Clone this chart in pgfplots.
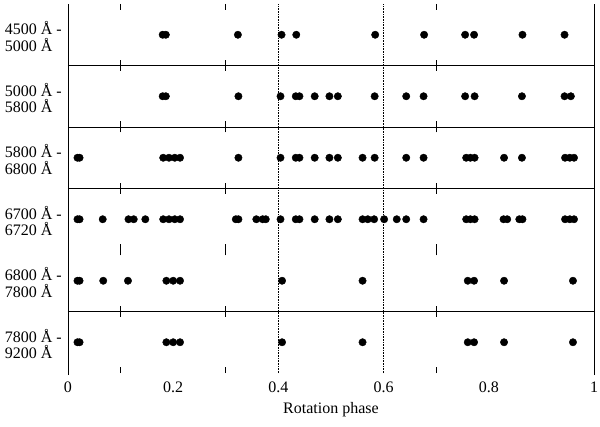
\documentclass[border=0pt]{standalone}
\usepackage{pgfplots}
\pgfplotsset{compat=1.18}
\usepackage{fontspec}
\setmainfont{Liberation Serif}
\newcommand{\lblfont}{\fontsize{16}{16.5}\selectfont}
\begin{document}
\begin{tikzpicture}
\useasboundingbox (-68pt,-53pt) rectangle (532pt,373pt);
% frame decorations (1 unit x = 526pt, 1 unit y = 61.5pt)
\draw[line width=0.8pt] (0,-2pt) -- (0,369pt);
\draw[line width=0.8pt] (526pt,-2pt) -- (526pt,369pt);
\foreach \yy in {1,3,4,5} {\draw[line width=0.8pt] (0,\yy*61.5pt) -- (526pt,\yy*61.5pt);}
\foreach \xx in {0.1,0.3,0.7} {
  \draw[line width=0.8pt] (\xx*526pt,369pt) -- (\xx*526pt,363pt);
  \draw[line width=0.8pt] (\xx*526pt,0pt) -- (\xx*526pt,6pt);
  \foreach \yy in {1,2,3,4,5} {\draw[line width=0.8pt] (\xx*526pt,\yy*61.5pt-5.5pt) -- (\xx*526pt,\yy*61.5pt+5.5pt);}
}
\draw[densely dotted, line width=0.6pt] (0.4*526pt,0) -- (0.4*526pt,369pt);
\draw[densely dotted, line width=0.6pt] (0.6*526pt,0) -- (0.6*526pt,369pt);
\begin{axis}[
  at={(0,0)}, anchor=south west,
  width=526pt, height=369pt, scale only axis,
  xmin=0, xmax=1, ymin=0, ymax=6,
  axis line style={draw=none},
  xtick={0,0.2,0.4,0.6,0.8,1},
  xticklabels={0,0.2,0.4,0.6,0.8,1},
  major tick length=0pt,
  ytick=\empty,
  tick label style={font=\lblfont},
  /pgf/number format/assume math mode=true,
  xticklabel style={yshift=-5pt},
  xlabel={Rotation phase},
  xlabel style={font=\lblfont, yshift=-3pt},
  clip=false,
]
\addplot[only marks, mark=*, mark size=3.7pt, black] coordinates {
(0.180,5.5) (0.186,5.5) (0.323,5.5) (0.406,5.5) (0.434,5.5) (0.584,5.5) (0.677,5.5) (0.755,5.5) (0.772,5.5) (0.864,5.5) (0.944,5.5)};
\addplot[only marks, mark=*, mark size=3.7pt, black] coordinates {
(0.180,4.5) (0.186,4.5) (0.324,4.5) (0.404,4.5) (0.433,4.5) (0.440,4.5) (0.469,4.5) (0.497,4.5) (0.513,4.5) (0.583,4.5) (0.643,4.5) (0.676,4.5) (0.755,4.5) (0.773,4.5) (0.863,4.5) (0.944,4.5) (0.956,4.5)};
\addplot[only marks, mark=*, mark size=3.7pt, black] coordinates {
(0.018,3.5) (0.022,3.5) (0.181,3.5) (0.192,3.5) (0.203,3.5) (0.213,3.5) (0.324,3.5) (0.404,3.5) (0.433,3.5) (0.440,3.5) (0.469,3.5) (0.497,3.5) (0.513,3.5) (0.560,3.5) (0.583,3.5) (0.643,3.5) (0.676,3.5) (0.757,3.5) (0.765,3.5) (0.773,3.5) (0.829,3.5) (0.863,3.5) (0.945,3.5) (0.954,3.5) (0.962,3.5)};
\addplot[only marks, mark=*, mark size=3.7pt, black] coordinates {
(0.018,2.5) (0.022,2.5) (0.066,2.5) (0.115,2.5) (0.125,2.5) (0.147,2.5) (0.181,2.5) (0.192,2.5) (0.203,2.5) (0.213,2.5) (0.319,2.5) (0.324,2.5) (0.358,2.5) (0.370,2.5) (0.376,2.5) (0.404,2.5) (0.433,2.5) (0.440,2.5) (0.469,2.5) (0.497,2.5) (0.513,2.5) (0.560,2.5) (0.570,2.5) (0.582,2.5) (0.601,2.5) (0.625,2.5) (0.643,2.5) (0.676,2.5) (0.757,2.5) (0.765,2.5) (0.773,2.5) (0.828,2.5) (0.835,2.5) (0.858,2.5) (0.864,2.5) (0.945,2.5) (0.954,2.5) (0.962,2.5)};
\addplot[only marks, mark=*, mark size=3.7pt, black] coordinates {
(0.018,1.5) (0.022,1.5) (0.067,1.5) (0.114,1.5) (0.187,1.5) (0.200,1.5) (0.213,1.5) (0.407,1.5) (0.560,1.5) (0.760,1.5) (0.772,1.5) (0.829,1.5) (0.960,1.5)};
\addplot[only marks, mark=*, mark size=3.7pt, black] coordinates {
(0.018,0.5) (0.022,0.5) (0.187,0.5) (0.200,0.5) (0.213,0.5) (0.407,0.5) (0.560,0.5) (0.760,0.5) (0.772,0.5) (0.829,0.5) (0.960,0.5)};
\node[anchor=east, align=left, font=\lblfont, inner sep=0pt] at ([xshift=-6pt,yshift=-2pt]axis cs:0,5.5) {4500 Å -\\5000 Å};
\node[anchor=east, align=left, font=\lblfont, inner sep=0pt] at ([xshift=-6pt,yshift=-2pt]axis cs:0,4.5) {5000 Å -\\5800 Å};
\node[anchor=east, align=left, font=\lblfont, inner sep=0pt] at ([xshift=-6pt,yshift=-2pt]axis cs:0,3.5) {5800 Å -\\6800 Å};
\node[anchor=east, align=left, font=\lblfont, inner sep=0pt] at ([xshift=-6pt,yshift=-2pt]axis cs:0,2.5) {6700 Å -\\6720 Å};
\node[anchor=east, align=left, font=\lblfont, inner sep=0pt] at ([xshift=-6pt,yshift=-2pt]axis cs:0,1.5) {6800 Å -\\7800 Å};
\node[anchor=east, align=left, font=\lblfont, inner sep=0pt] at ([xshift=-6pt,yshift=-2pt]axis cs:0,0.5) {7800 Å -\\9200 Å};
\end{axis}
\end{tikzpicture}
\end{document}
